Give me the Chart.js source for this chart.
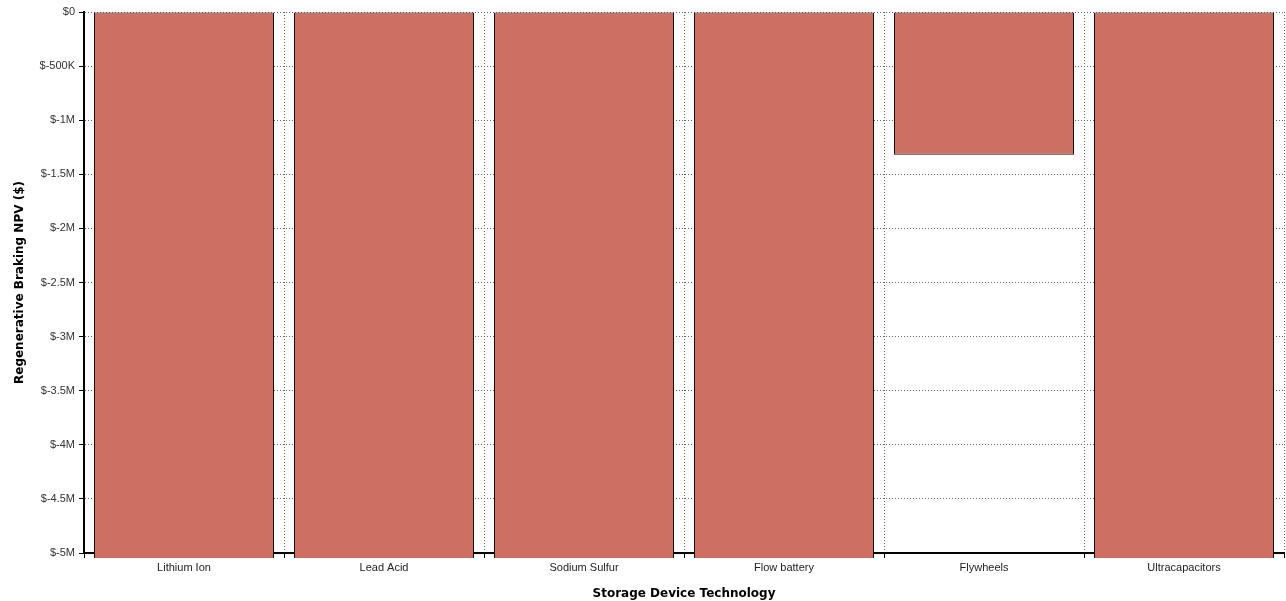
<!DOCTYPE html>
<html>
<head>
<meta charset="utf-8">
<script src="https://cdn.jsdelivr.net/npm/chart.js@4.4.0/dist/chart.umd.min.js"></script>
<style>
  html, body { margin: 0; padding: 0; background: #fff; }
  #wrap { width: 1286px; height: 601px; }
</style>
</head>
<body>
<div id="wrap"><canvas id="c" width="1286" height="601"></canvas></div>
<script>
// categories and values (bars other than Flywheels run off the bottom of the axis)
const technologies = ["Lithium Ion", "Lead Acid", "Sodium Sulfur", "Flow battery", "Flywheels", "Ultracapacitors"];
const npvValues = [-6000000, -6000000, -6000000, -6000000, -1320000, -6000000];
const yMin = -5000000;
const yMax = 0;
const yStep = 500000;

const fmtMoney = (v) => {
  if (v === 0) return "$0";
  if (Math.abs(v) >= 1000000) return "$" + (v / 1000000) + "M";
  return "$" + (v / 1000) + "K";
};

const tickFont = { family: "Liberation Sans, Arial, sans-serif", size: 11 };
const titleFont = { family: "DejaVu Sans, Verdana, sans-serif", size: 12, weight: "bold" };

new Chart(document.getElementById("c"), {
  type: "bar",
  data: {
    labels: technologies,
    datasets: [
      {
        label: "Regenerative Braking NPV",
        data: npvValues,
        backgroundColor: "#cd7063",
        borderColor: "#1a0d0b",
        borderWidth: 1,
        borderSkipped: false,
        categoryPercentage: 0.9,
        barPercentage: 1.0,
        clip: { left: 0, top: 0, right: 0, bottom: 5 },
      },
    ],
  },
  options: {
    responsive: false,
    animation: false,
    layout: { padding: { top: 12, right: 2, left: 0, bottom: 0 } },
    plugins: {
      legend: { display: false },
      tooltip: { enabled: false },
    },
    scales: {
      x: {
        offset: true,
        grid: {
          offset: true,
          color: "#666",
          tickLength: 5,
          tickColor: "#000",
          tickBorderDash: [],
        },
        border: { color: "#000", width: 2, dash: [1, 2] },
        ticks: { color: "#222", font: tickFont, padding: 3 },
        title: {
          display: true,
          text: "Storage Device Technology",
          color: "#000",
          font: titleFont,
          padding: { top: 4, bottom: 0 },
        },
        afterFit: (scale) => { scale.height = 48; },
      },
      y: {
        min: yMin,
        max: yMax,
        grid: {
          color: "#666",
          tickLength: 5,
          tickColor: "#000",
          tickBorderDash: [],
        },
        border: { color: "#000", width: 2, dash: [1, 2] },
        ticks: {
          stepSize: yStep,
          color: "#333",
          font: tickFont,
          padding: 4,
          callback: (v) => fmtMoney(v),
        },
        title: {
          display: true,
          text: "Regenerative Braking NPV ($)",
          color: "#000",
          font: titleFont,
          padding: { top: 13, bottom: 0 },
        },
        afterFit: (scale) => { scale.width = 84; },
      },
    },
  },
});
</script>
</body>
</html>
